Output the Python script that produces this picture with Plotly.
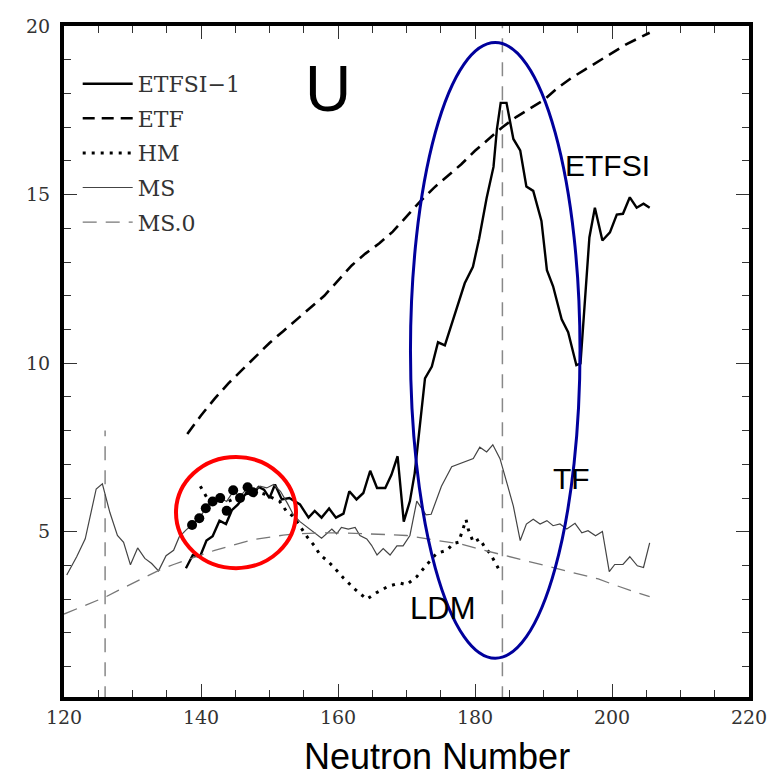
import plotly.graph_objects as go

# ---------------- data ----------------
ms_n = [120.4, 121.85, 123.1, 124.7, 125.6, 126.7, 127.8, 128.7, 129.7, 130.75, 131.8, 132.8,
        133.8, 134.9, 136.0, 136.8, 137.8, 138.7, 139.75, 140.7, 141.7, 142.8, 143.75, 144.7,
        145.7, 146.8, 147.6, 148.6, 149.6, 150.6, 151.6, 152.6, 153.5, 154.45, 155.4, 156.15,
        157.6, 159.1, 159.8, 160.5, 161.5, 162.5, 163.2, 164.2, 164.9, 165.7, 166.6, 167.6,
        168.6, 169.5, 170.5, 171.5, 172.85, 173.6, 175.1, 176.6, 177.8, 178.8, 179.75, 180.7,
        181.7, 182.6, 183.65, 184.6, 185.6, 186.6, 187.5, 188.5, 189.5, 190.5, 191.4, 192.4,
        193.4, 194.6, 195.6, 196.5, 197.6, 198.6, 199.6, 200.4, 201.6, 202.6, 203.7, 204.6, 205.5]
ms_b = [3.72, 4.26, 4.79, 6.27, 6.42, 5.57, 4.89, 4.69, 4.02, 4.52, 4.21, 4.06,
        3.84, 4.29, 4.45, 4.84, 5.05, 5.2, 5.4, 5.7, 5.9, 6.0, 5.9, 6.2,
        6.05, 6.3, 6.2, 6.35, 6.3, 6.4, 6.2, 5.85, 5.5, 5.3, 5.15, 5.05,
        4.81, 5.08, 4.94, 5.13, 5.08, 5.13, 4.89, 4.79, 4.6, 4.31, 4.5, 4.31,
        4.58, 4.58, 4.89, 5.91, 5.5, 5.52, 6.35, 6.93, 7.03, 7.11, 7.17, 7.51,
        7.37, 7.58, 7.17, 6.49, 5.76, 4.74, 5.23, 5.37, 5.23, 5.33, 5.18, 5.23,
        5.08, 5.25, 4.97, 5.03, 4.88, 5.01, 3.82, 4.03, 4.03, 4.26, 3.99, 3.94, 4.67]

ms0_n = [120, 122, 124, 126, 128, 130, 132, 134, 136, 138, 140, 142, 144, 146, 148, 150, 152,
         154, 156, 158, 160, 162, 164, 166, 168, 170, 172, 174, 176, 178, 180, 182, 184, 186,
         188, 190, 192, 194, 196, 198, 200, 202, 204, 205.5]
ms0_b = [2.56, 2.72, 2.9, 3.06, 3.27, 3.47, 3.67, 3.87, 4.03, 4.18, 4.31, 4.45, 4.57, 4.68,
         4.78, 4.85, 4.9, 4.94, 4.96, 4.97, 4.97, 4.96, 4.95, 4.93, 4.91, 4.89, 4.82, 4.75,
         4.7, 4.63, 4.52, 4.42, 4.3, 4.2, 4.1, 4.0, 3.9, 3.8, 3.7, 3.6, 3.45, 3.3, 3.17, 3.08]

etf_n = [138, 140, 142, 144, 146, 148, 150, 152, 154, 156, 158, 160, 162, 164, 166, 168, 170,
         172, 174, 176, 178, 180, 182, 184, 186, 188, 190, 192, 194, 196, 198, 200, 202, 204, 205.5]
etf_b = [7.9, 8.45, 8.95, 9.4, 9.8, 10.2, 10.6, 10.95, 11.3, 11.65, 12.0, 12.45, 12.9, 13.25,
         13.55, 13.9, 14.35, 14.8, 15.2, 15.55, 15.9, 16.3, 16.65, 17.0, 17.3, 17.55, 17.8,
         18.15, 18.45, 18.7, 18.95, 19.2, 19.45, 19.65, 19.8]

etfsi_n = [137.8, 138.8, 139.85, 140.8, 141.7, 142.7, 143.65, 144.5, 145.4, 146.6, 147.55, 148.4,
           149.2, 150.0, 150.8, 151.8, 152.9, 154.45, 155.7, 156.6, 157.6, 158.7, 159.7, 160.8,
           161.65, 162.7, 163.7, 164.7, 165.7, 166.9, 167.8, 168.7, 169.6, 170.5, 171.2, 171.95,
           172.7, 173.7, 174.6, 175.6, 176.6, 177.6, 178.5, 179.7, 180.6, 181.7, 182.7, 183.2,
           183.75, 184.6, 185.6, 186.6, 187.5, 188.5, 189.7, 190.5, 191.4, 192.65, 193.6, 194.8,
           195.4, 196.7, 197.5, 198.6, 199.7, 200.7, 201.6, 202.6, 203.6, 204.6, 205.5]
etfsi_b = [3.92, 4.31, 4.26, 4.74, 4.87, 5.33, 5.23, 5.64, 5.81, 6.15, 6.10, 6.33,
           6.25, 6.0, 6.4, 5.96, 6.0, 5.81, 5.42, 5.62, 5.42, 5.69, 5.42, 5.54,
           6.2, 5.96, 6.15, 6.81, 6.30, 6.30, 6.69, 7.24, 5.30, 5.91, 6.74, 8.1,
           9.55, 9.9, 10.62, 10.53, 11.16, 11.74, 12.37, 12.86, 13.69, 14.9, 15.82, 16.94,
           17.72, 17.72, 16.65, 16.31, 15.24, 15.11, 14.22, 12.76, 12.28, 11.3, 10.92, 9.94,
           9.99, 13.73, 14.61, 13.64, 13.88, 14.41, 14.43, 14.92, 14.61, 14.73, 14.61]

hm_n = [139.9, 140.9, 142.0, 144.0, 146.0, 148.0, 149.5, 150.5, 151.5, 152.5, 153.5, 154.5,
        155.5, 156.5, 157.4, 158.4, 159.3, 160.8, 162.5, 164.2, 165.6, 167.3, 169.0, 170.0,
        171.5, 172.9, 174.4, 175.9, 176.8, 177.6, 178.3, 178.7, 179.0, 179.75, 180.7, 181.4,
        182.2, 182.9, 183.4]
hm_b = [6.35, 6.0, 5.9, 5.9, 6.1, 6.2, 6.1, 6.0, 5.9, 5.6, 5.45, 5.15,
        4.85, 4.6, 4.31, 4.15, 3.97, 3.63, 3.29, 3.0, 3.19, 3.38, 3.48, 3.43,
        3.67, 4.01, 4.36, 4.45, 4.65, 4.69, 5.08, 5.36, 5.08, 4.69, 4.79, 4.55,
        4.36, 4.11, 3.92]

exp_n = [138.7, 139.75, 140.7, 141.7, 142.8, 143.75, 144.7, 145.7, 146.8, 147.6]
exp_b = [5.2, 5.4, 5.7, 5.9, 6.0, 5.62, 6.23, 6.0, 6.32, 6.17]

magic_n = [126, 184]
magic_top = [8.0, 20.0]

# highlight ellipses (data-space bounds)
red_box = [136.35, 3.92, 153.87, 7.22]
blue_box = [170.58, 1.25, 195.33, 19.51]

labels = [("U", 158.55, 18.13, 64), ("ETFSI", 199.3, 15.86, 30),
          ("TF", 194.1, 6.58, 30), ("LDM", 175.25, 2.71, 31)]

# ---------------- figure ----------------
fig = go.Figure()

fig.add_trace(go.Scatter(x=etfsi_n, y=etfsi_b, mode="lines", name="ETFSI\u22121", legendgroup="a",
                         line=dict(color="black", width=2.4)))
fig.add_trace(go.Scatter(x=etf_n, y=etf_b, mode="lines", name="ETF", legendgroup="b",
                         line=dict(color="black", width=2.6, dash="12px,7px")))
fig.add_trace(go.Scatter(x=hm_n, y=hm_b, mode="lines", name="HM", legendgroup="c",
                         line=dict(color="black", width=3, dash="3px,6px")))
fig.add_trace(go.Scatter(x=ms_n, y=ms_b, mode="lines", name="MS", legendgroup="d",
                         line=dict(color="#444444", width=1.2)))
fig.add_trace(go.Scatter(x=ms0_n, y=ms0_b, mode="lines", name="MS.0", legendgroup="e",
                         line=dict(color="#777777", width=1.3, dash="14px,9px")))
fig.add_trace(go.Scatter(x=exp_n, y=exp_b, mode="markers", name="exp", showlegend=False,
                         marker=dict(color="black", size=10)))

for n, top in zip(magic_n, magic_top):
    fig.add_shape(type="line", xref="x", yref="y", x0=n, x1=n, y0=0, y1=top,
                  line=dict(color="#888888", width=1.5, dash="14px,10px"), layer="below")

fig.add_shape(type="circle", xref="x", yref="y", x0=red_box[0], y0=red_box[1],
              x1=red_box[2], y1=red_box[3], line=dict(color="#FF0000", width=4))
fig.add_shape(type="circle", xref="x", yref="y", x0=blue_box[0], y0=blue_box[1],
              x1=blue_box[2], y1=blue_box[3], line=dict(color="#00009C", width=3))

for txt, xx, yy, fs in labels:
    fig.add_annotation(x=xx, y=yy, text=txt, showarrow=False, xanchor="center", yanchor="middle",
                       font=dict(family="Liberation Sans, Arial", size=fs, color="black"))

fig.add_annotation(xref="paper", yref="paper", x=0.5445, y=-0.089, text="Neutron Number",
                   showarrow=False, xanchor="center", yanchor="middle",
                   font=dict(family="Liberation Sans, Arial", size=36, color="black"))

tickfont = dict(family="DejaVu Serif", size=19, color="#333333")
axis_common = dict(showline=True, linewidth=4, linecolor="black", mirror="ticks",
                   ticks="inside", ticklen=13, tickwidth=1, tickcolor="#333333",
                   showgrid=False, zeroline=False, tickfont=tickfont,
                   ticklabeloverflow="allow")

fig.update_xaxes(range=[120, 220], tick0=120, dtick=20,
                 minor=dict(dtick=5, ticklen=7, ticks="inside", tickcolor="#333333"),
                 **axis_common)
fig.update_yaxes(range=[0.1, 20], tick0=0, dtick=5, ticklabelstandoff=6,
                 minor=dict(dtick=1, ticklen=7, ticks="inside", tickcolor="#333333"),
                 **axis_common)

# the page body adds an 8px offset; margins compensate so the frame sits where the reference has it
fig.update_layout(
    width=779, height=777,
    margin=dict(l=56, r=38, t=7, b=88),
    paper_bgcolor="white", plot_bgcolor="white",
    showlegend=True,
    legend=dict(x=0.02, y=0.945, xanchor="left", yanchor="top",
                font=dict(family="DejaVu Serif", size=22, color="#333333"),
                bgcolor="rgba(0,0,0,0)", itemwidth=50, traceorder="grouped",
                tracegroupgap=3),
)

fig.write_html("out.html")
